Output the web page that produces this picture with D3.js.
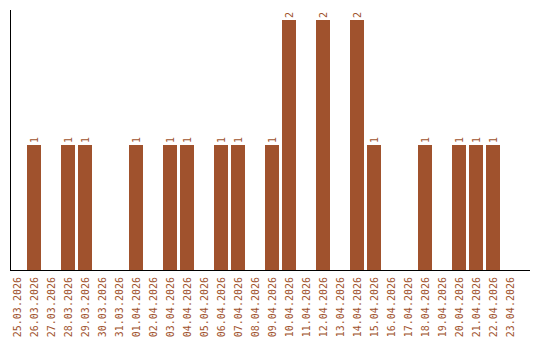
<!DOCTYPE html>
<meta charset="utf-8">
<style>
    body {
        margin: 0;
        background: #fff;
    }

    svg {
        display: block;
    }

    text {
        font: 10px "DejaVu Sans Mono", monospace;
        fill: #a0522d;
    }

    .axis-line {
        stroke: #000;
        stroke-width: 1px;
        shape-rendering: crispEdges;
    }
</style>

<body>
    <script src="https://d3js.org/d3.v7.min.js"></script>
    <script>

        var dates = ["25.03.2026", "26.03.2026", "27.03.2026", "28.03.2026", "29.03.2026",
            "30.03.2026", "31.03.2026", "01.04.2026", "02.04.2026", "03.04.2026",
            "04.04.2026", "05.04.2026", "06.04.2026", "07.04.2026", "08.04.2026",
            "09.04.2026", "10.04.2026", "11.04.2026", "12.04.2026", "13.04.2026",
            "14.04.2026", "15.04.2026", "16.04.2026", "17.04.2026", "18.04.2026",
            "19.04.2026", "20.04.2026", "21.04.2026", "22.04.2026", "23.04.2026"];

        var counts = [0, 1, 0, 1, 1,
            0, 0, 1, 0, 1,
            1, 0, 1, 1, 0,
            1, 2, 0, 2, 0,
            2, 1, 0, 0, 1,
            0, 1, 1, 1, 0];

        var width = 540,
            height = 340,
            left = 10,
            bottom = 270;

        var data = dates.map(function (d, i) {
            return { label: d, value: counts[i] };
        });

        var svg = d3.select("body")
            .append("svg")
            .attr("width", width)
            .attr("height", height);

        var x = d3.scaleBand()
            .domain(dates)
            .range([left, 517])
            .paddingInner(3 / 17)
            .paddingOuter(0);

        var y = d3.scaleLinear()
            .domain([0, 2])
            .range([bottom, 20]);

        /* ------- BARS -------*/

        svg.append("g")
            .selectAll("rect")
            .data(data)
            .enter()
            .append("rect")
            .attr("x", function (d) { return x(d.label); })
            .attr("width", x.bandwidth())
            .attr("y", function (d) { return y(d.value); })
            .attr("height", function (d) { return bottom - y(d.value); })
            .attr("fill", "#a0522d");

        /* ------- VALUE LABELS -------*/

        svg.append("g")
            .selectAll("text")
            .data(data.filter(function (d) { return d.value > 0; }))
            .enter()
            .append("text")
            .attr("transform", function (d) {
                return "translate(" + (x(d.label) + x.bandwidth() / 2) + "," + (y(d.value) - 2) + ") rotate(-90)";
            })
            .attr("dy", "0.35em")
            .text(function (d) { return d.value; });

        /* ------- AXES -------*/

        svg.append("line")
            .attr("class", "axis-line")
            .attr("x1", left + 0.5).attr("x2", left + 0.5)
            .attr("y1", 10).attr("y2", bottom);

        svg.append("line")
            .attr("class", "axis-line")
            .attr("x1", left).attr("x2", 530)
            .attr("y1", bottom + 0.5).attr("y2", bottom + 0.5);

        svg.append("g")
            .selectAll("text")
            .data(dates)
            .enter()
            .append("text")
            .attr("text-anchor", "end")
            .attr("transform", function (d) {
                return "translate(" + (x(d) + x.bandwidth() / 2) + "," + (bottom + 7) + ") rotate(-90)";
            })
            .attr("dy", "0.35em")
            .text(function (d) { return d; });

    </script>
</body>
